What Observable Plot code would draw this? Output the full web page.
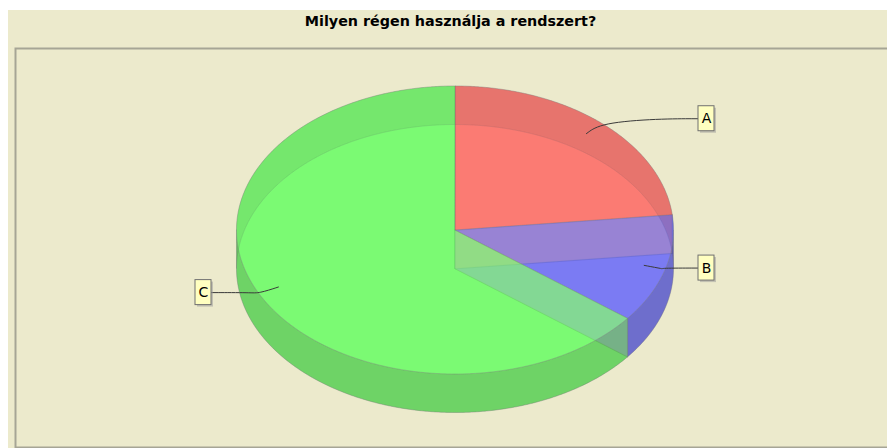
<!DOCTYPE html>
<html><head><meta charset="utf-8">
<script src="https://cdn.jsdelivr.net/npm/d3@7"></script>
<script src="https://cdn.jsdelivr.net/npm/@observablehq/plot@0.6"></script>
<style>
html,body{margin:0;padding:0;background:#fff;}
#wrap{position:absolute;left:8px;top:10px;width:879px;height:438px;background:#ECEACC;overflow:hidden;}
#title{height:36px;box-sizing:border-box;padding-top:3px;padding-left:6px;line-height:16px;text-align:center;font-family:"DejaVu Sans",sans-serif;font-weight:bold;font-size:14.3px;color:#000;}
#chart svg{display:block;}
</style></head><body>
<div id="wrap"><div id="title">Milyen régen használja a rendszert?</div><div id="chart"></div></div>
<script>
// data
const categories = ["A", "B", "C"];
const values = [23.3, 12.2, 64.5];
const paints = ["#FF5555", "#5555FF", "#55FF55"];
const sidePaints = ["#B23B3B", "#3B3BB2", "#3BB23B"];

// layout (pixels within the svg)
const cx = 446.5, cy = 183.5, rx = 218.5, ry = 144, depthPx = 38.5;
const D = depthPx / ry;

const total = d3.sum(values);
let cum = 0;
const slices = categories.map((c, i) => {
  const a0 = 90 - cum / total * 360;
  cum += values[i];
  const a1 = 90 - cum / total * 360;
  return {c, i, a0, a1, m: (a0 + a1) / 2};
});

const rad = d => d * Math.PI / 180;
const pt = (t, r, dz) => [r * Math.cos(rad(t)), r * Math.sin(rad(t)) - dz];
function arc(from, to, dz, r = 1) {
  const n = Math.max(2, Math.ceil(Math.abs(to - from) / 0.5));
  return d3.range(n + 1).map(k => pt(from + (to - from) * k / n, r, dz));
}
const poly = (id, fill, pts) => pts.map(([x, y]) => ({id, fill, x, y}));

// bottom faces + start-edge height polygons (interleaved per slice)
const bottomRows = [];
slices.forEach(s => {
  bottomRows.push(...poly("b" + s.i, paints[s.i], [[0, -D], ...arc(s.a0, s.a1, D)]));
  bottomRows.push(...poly("h" + s.i, "#C0C0C0", [[0, -D], [0, 0], pt(s.a0, 1, 0), pt(s.a0, 1, D)]));
});

function parts(a1, a0, back) {
  const out = [];
  for (let k = -2; k <= 2; k++) {
    const lo = back ? 360 * k : 360 * k - 180, hi = lo + 180;
    const s = Math.max(a1, lo), e = Math.min(a0, hi);
    if (e > s + 1e-9) out.push([s, e]);
  }
  return out;
}
const backRows = [], frontRows = [];
slices.forEach(s => {
  parts(s.a1, s.a0, true).forEach(([a, b], j) =>
    backRows.push(...poly("bk" + s.i + "_" + j, sidePaints[s.i], [...arc(a, b, 0), ...arc(b, a, D)])));
  parts(s.a1, s.a0, false).forEach(([a, b], j) =>
    frontRows.push(...poly("fr" + s.i + "_" + j, sidePaints[s.i], [...arc(a, b, 0), ...arc(b, a, D)])));
});
const topRows = [];
slices.forEach(s => topRows.push(...poly("t" + s.i, paints[s.i], [[0, 0], ...arc(s.a0, s.a1, 0)])));

// labels
const G = 243.5 / rx, BW = 16 / rx, BH = 25 / ry;
const labels = slices.map(s => {
  const right = Math.cos(rad(s.m)) >= 0;
  const ly = 0.014 + 1.02 * Math.sin(rad(s.m));
  const edge = right ? G : -G;
  const x1 = right ? edge : edge - BW, x2 = right ? edge + BW : edge;
  return {c: s.c, right, ly, edge, x1, x2, xc: (x1 + x2) / 2, y1: ly - BH / 2, y2: ly + BH / 2, m: s.m};
});
const linkRows = [];
labels.forEach(l => {
  const sgn = l.right ? -1 : 1;
  linkRows.push(...poly("l" + l.c, null, [
    [l.edge, l.ly], [l.edge + sgn * 40 / rx, l.ly], pt(l.m, 1.0, 0), pt(l.m, 0.9, 0)
  ]));
});

const faceOpts = {x: "x", y: "y", z: "id", fill: "fill", stroke: "#808080", strokeWidth: 0.5,
  fillOpacity: 0.5, strokeOpacity: 0.5, curve: "linear-closed"};

const chart = Plot.plot({
  width: 895, height: 402,
  marginLeft: 7, marginTop: 2, marginRight: 0, marginBottom: 1,
  x: {domain: [-1, 1], range: [cx - rx, cx + rx], axis: null},
  y: {domain: [-1, 1], range: [cy + ry, cy - ry], axis: null},
  color: {type: "identity"},
  style: "background: transparent; overflow: visible; max-width: none; height: 402px;",
  marks: [
    Plot.frame({stroke: "#A6A595", strokeWidth: 2}),
    Plot.line(bottomRows, faceOpts),
    Plot.line(backRows, faceOpts),
    Plot.line(frontRows, faceOpts),
    Plot.line(topRows, faceOpts),
    Plot.line(linkRows, {x: "x", y: "y", z: "id", curve: "basis", stroke: "#3a3a3a", strokeWidth: 1}),
    Plot.rect(labels, {x1: "x1", x2: "x2", y1: "y1", y2: "y2", fill: "#979797", fillOpacity: 0.5, dx: 2, dy: 2}),
    Plot.rect(labels, {x1: "x1", x2: "x2", y1: "y1", y2: "y2", fill: "#FFFFC0", stroke: "#707070", strokeWidth: 1}),
    Plot.text(labels, {x: "xc", y: "ly", text: "c", fontSize: 14, fontFamily: "DejaVu Sans", fill: "#000"})
  ]
});
document.getElementById("chart").appendChild(chart);
</script>
</body></html>
